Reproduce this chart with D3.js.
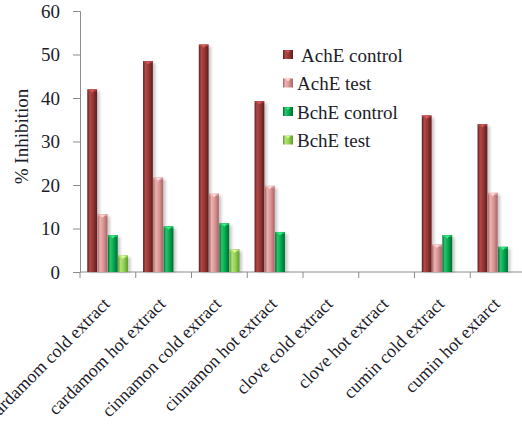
<!DOCTYPE html>
<html>
<head>
<meta charset="utf-8">
<script src="https://cdn.jsdelivr.net/npm/d3@7"></script>
<style>
  html, body { margin: 0; padding: 0; background: #fff; }
  svg { display: block; }
</style>
</head>
<body>
<svg id="chart" width="522" height="430"></svg>
<script>
// Categories (extracts) and the four inhibition series (% inhibition)
const categories = [
  "cardamom cold extract", "cardamom hot extract",
  "cinnamon cold extract", "cinnamon hot extract",
  "clove cold extract", "clove hot extract",
  "cumin cold extract", "cumin hot extarct"
];
const seriesNames = ["AchE control", "AchE test", "BchE control", "BchE test"];
const achEControl = [42, 48.5, 52.3, 39.3, 0, 0, 36, 34];
const achETest    = [13.3, 21.7, 18, 19.8, 0, 0, 6.3, 18.2];
const bchEControl = [8.5, 10.5, 11.2, 9.2, 0, 0, 8.5, 5.8];
const bchETest    = [3.8, 0, 5.2, 0, 0, 0, 0, 0];
const yTicks = [0, 10, 20, 30, 40, 50, 60];

const FONT = "Liberation Serif";
const TEXT = "#1c1c2a";

const seriesValues = [achEControl, achETest, bchEControl, bchETest];
const colors = ["#943634", "#d99594", "#00a84f", "#92d050"];
const darks  = ["#5e1c1b", "#a86463", "#006b30", "#5e9a2a"];
const lights = ["#b04a47", "#ebb2b1", "#2cc46e", "#b2e37a"];

const svg = d3.select("#chart");
const margin = { left: 80, top: 11, right: 526, bottom: 272 };

const x = d3.scaleBand().domain(categories).range([margin.left, margin.right]).paddingInner(0).paddingOuter(0);
const groupPad = 7.3;
const xs = d3.scaleBand().domain(seriesNames).range([groupPad, x.bandwidth() - groupPad]).padding(0);
const y = d3.scaleLinear().domain([0, 60]).range([margin.bottom, margin.top]);

// Gradients for the cylinder-like shading on each series
const defs = svg.append("defs");
seriesNames.forEach((s, i) => {
  const g = defs.append("linearGradient").attr("id", "grad" + i)
    .attr("x1", "0%").attr("x2", "100%").attr("y1", "0%").attr("y2", "0%");
  g.append("stop").attr("offset", "0%").attr("stop-color", darks[i]);
  g.append("stop").attr("offset", "25%").attr("stop-color", lights[i]);
  g.append("stop").attr("offset", "60%").attr("stop-color", colors[i]);
  g.append("stop").attr("offset", "100%").attr("stop-color", darks[i]);
});
const blur = defs.append("filter").attr("id", "shadow").attr("x", "-50%").attr("y", "-10%").attr("width", "200%").attr("height", "120%");
blur.append("feGaussianBlur").attr("stdDeviation", 1.5);

// Axes
const yAxis = svg.append("g").attr("transform", `translate(${margin.left},0)`)
  .call(d3.axisLeft(y).tickValues(yTicks).tickSize(7).tickPadding(13));
yAxis.attr("font-family", FONT).attr("font-size", 19);
yAxis.select(".domain").attr("stroke", "#8c8c8c");
yAxis.selectAll(".tick line").attr("stroke", "#8c8c8c");
yAxis.selectAll(".tick text").attr("fill", TEXT);

const xAxisG = svg.append("g").attr("transform", `translate(0,${margin.bottom})`);
xAxisG.append("line").attr("x1", margin.left).attr("x2", 522).attr("y1", 0).attr("y2", 0).attr("stroke", "#8c8c8c");
const boundaries = categories.map(c => x(c));
xAxisG.selectAll("line.tk").data(boundaries).join("line").attr("class", "tk")
  .attr("x1", d => d).attr("x2", d => d).attr("y1", 0).attr("y2", 6).attr("stroke", "#8c8c8c");

// Category labels, rotated
svg.append("g").attr("font-family", FONT).attr("font-size", 18)
  .selectAll("text").data(categories).join("text")
  .attr("transform", d => `translate(${x(d) + x.bandwidth() / 2 + 3},${margin.bottom + 33}) rotate(-45)`)
  .attr("text-anchor", "end")
  .attr("fill", TEXT)
  .text(d => d);

// Y axis title
svg.append("text")
  .attr("transform", `translate(28,${(88 + 185) / 2}) rotate(-90)`)
  .attr("text-anchor", "middle")
  .attr("font-family", FONT).attr("font-size", 19).attr("fill", TEXT)
  .text("% Inhibition");

// Bars
const barData = [];
categories.forEach((c, ci) => {
  seriesNames.forEach((s, si) => {
    barData.push({ c, s, si, v: seriesValues[si][ci] });
  });
});
const bars = svg.append("g").selectAll("g").data(barData.filter(d => d.v > 0)).join("g")
  .attr("transform", d => `translate(${x(d.c) + xs(d.s)},0)`);
const bw = xs.bandwidth();
bars.append("rect")
  .attr("x", 2).attr("y", d => y(d.v) + 2)
  .attr("width", bw).attr("height", d => y(0) - y(d.v) - 2)
  .attr("fill", "#000").attr("opacity", 0.22).attr("filter", "url(#shadow)");
bars.append("rect")
  .attr("x", 0).attr("y", d => y(d.v))
  .attr("width", bw - 0.5).attr("height", d => y(0) - y(d.v))
  .attr("fill", d => `url(#grad${d.si})`);
bars.append("rect")
  .attr("x", 0.5).attr("y", d => y(d.v))
  .attr("width", bw - 1.5).attr("height", 2)
  .attr("fill", d => lights[d.si]).attr("opacity", 0.8);
bars.append("path")
  .attr("d", d => {
    const t = y(d.v), m = (bw - 0.5) / 2;
    return `M${m - 2.5},${t + 0.5}L${m + 2.5},${t + 0.5}L${m},${t + 3.5}Z`;
  })
  .attr("fill", d => d3.color(lights[d.si]).brighter(0.6));

// Legend
const legend = svg.append("g").attr("font-family", FONT).attr("font-size", 19);
const legY = [55, 83.5, 112, 140.5];
seriesNames.forEach((s, i) => {
  const g = legend.append("g").attr("transform", `translate(283,${legY[i]})`);
  g.append("rect").attr("x", 0).attr("y", -5).attr("width", 10).attr("height", 9)
    .attr("fill", `url(#grad${i})`);
  g.append("path").attr("d", "M3,-4.5L7,-4.5L5,-2Z").attr("fill", d3.color(lights[i]).brighter(0.6));
  g.append("text").attr("x", i === 0 ? 18 : 14).attr("y", 0).attr("dy", "0.35em")
    .attr("fill", TEXT)
    .text(s);
});
</script>
</body>
</html>
